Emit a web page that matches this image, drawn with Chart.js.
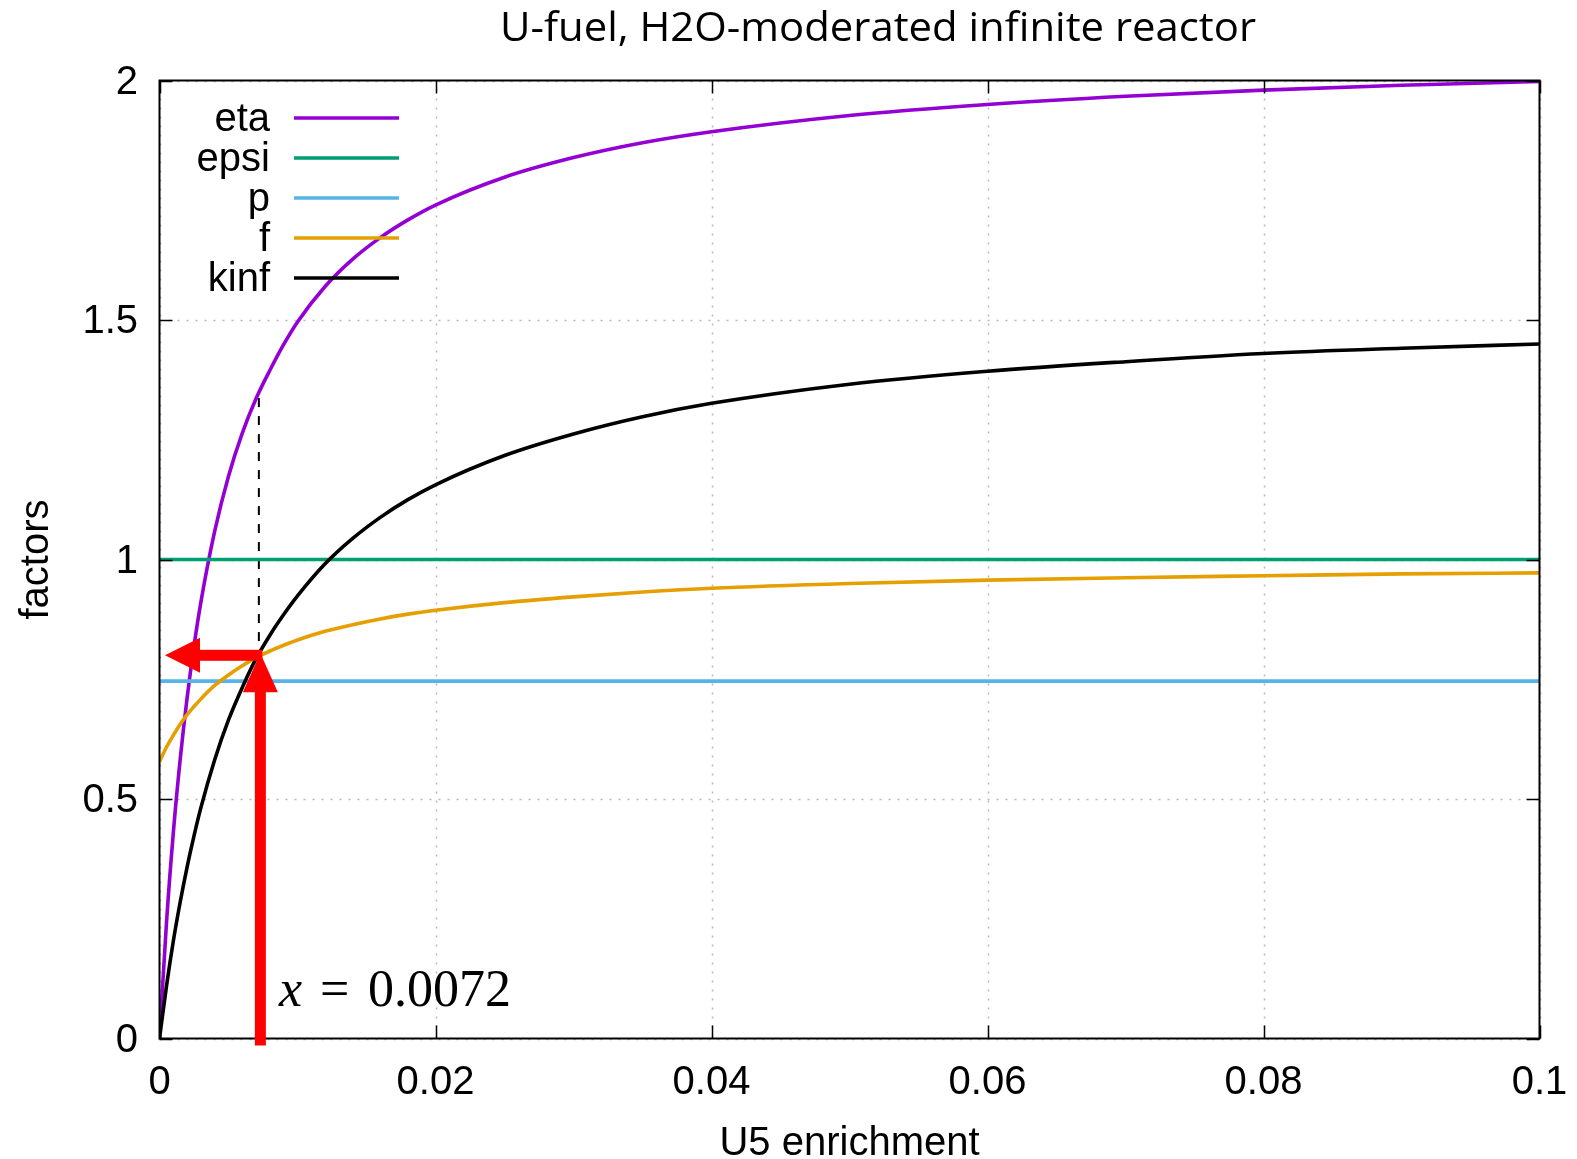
<!DOCTYPE html>
<html>
<head>
<meta charset="utf-8">
<script src="https://cdn.jsdelivr.net/npm/chart.js@4.4.1/dist/chart.umd.min.js"></script>
<style>
html,body{margin:0;padding:0;background:#fff;}
canvas{display:block;}
</style>
</head>
<body>
<canvas id="c" width="1577" height="1159"></canvas>
<script>
// ---- data ----
const enrichment = [0,0.0005,0.001,0.0015,0.002,0.0025,0.003,0.004,0.005,0.006,0.007,0.008,0.009,0.01,0.012,0.014,0.016,0.018,0.02,0.025,0.03,0.035,0.04,0.05,0.06,0.07,0.08,0.09,0.1];
const eta  = [0,0.239,0.429,0.583,0.711,0.819,0.911,1.059,1.174,1.264,1.336,1.395,1.449,1.496,1.570,1.627,1.672,1.709,1.740,1.798,1.839,1.870,1.893,1.927,1.950,1.967,1.980,1.990,1.998];
const fUtil = [0.578,0.608,0.633,0.656,0.676,0.693,0.709,0.737,0.759,0.778,0.795,0.809,0.821,0.832,0.850,0.864,0.876,0.886,0.894,0.910,0.922,0.932,0.940,0.950,0.957,0.962,0.966,0.970,0.972];
const kinf = [0,0.108,0.203,0.285,0.358,0.423,0.482,0.582,0.665,0.733,0.793,0.842,0.885,0.924,0.991,1.044,1.088,1.125,1.156,1.217,1.262,1.298,1.326,1.366,1.393,1.413,1.430,1.441,1.450];
const epsiX = [0, 0.1];
const epsi  = [1, 1];
const pX = [0, 0.1];
const pRes = [0.746, 0.746];

const seriesNames  = ['eta','epsi','p','f','kinf'];
const seriesColors = ['#9400d3','#009e73','#56b4e9','#e69f00','#000000'];
const xTickValues = [0,0.02,0.04,0.06,0.08,0.1];
const xTickLabels = ['0','0.02','0.04','0.06','0.08','0.1'];
const yTickValues = [0,0.5,1,1.5,2];
const yTickLabels = ['0','0.5','1','1.5','2'];
const natEnrichment = 0.0072;   // x = 0.0072
const kinfAtNat = 0.8;          // arrow level
const etaAtNat = 1.337;         // top of the dashed marker line
const chartTitle = 'U-fuel, H2O-moderated infinite reactor';
const xTitle = 'U5 enrichment';
const yTitle = 'factors';

function pts(xs, ys){ return xs.map((x,i)=>({x:x, y:ys[i]})); }

const TICKFONT = {family:'"Liberation Sans", Arial, sans-serif', size:40, lineHeight:1.2};

const decor = {
  id:'decor',
  beforeDatasetsDraw(chart){
    const ctx = chart.ctx, a = chart.chartArea;
    const xs = chart.scales.x, ys = chart.scales.y;
    ctx.save();
    // dotted grid
    ctx.strokeStyle = '#b8b8b8';
    ctx.lineWidth = 1.5;
    ctx.setLineDash([2,7]);
    xTickValues.forEach(v=>{
      const px = Math.round(xs.getPixelForValue(v))+0.5;
      ctx.beginPath(); ctx.moveTo(px,a.top); ctx.lineTo(px,a.bottom); ctx.stroke();
    });
    yTickValues.forEach(v=>{
      const py = Math.round(ys.getPixelForValue(v))+0.5;
      ctx.beginPath(); ctx.moveTo(a.left,py); ctx.lineTo(a.right,py); ctx.stroke();
    });
    ctx.setLineDash([]);
    // dashed marker at natural enrichment
    const xn = xs.getPixelForValue(natEnrichment);
    ctx.strokeStyle = '#000';
    ctx.lineWidth = 2;
    ctx.setLineDash([9,9]);
    ctx.beginPath(); ctx.moveTo(xn, ys.getPixelForValue(etaAtNat)); ctx.lineTo(xn, ys.getPixelForValue(0)); ctx.stroke();
    ctx.restore();
  },
  afterDatasetsDraw(chart){
    const ctx = chart.ctx, a = chart.chartArea;
    const xs = chart.scales.x, ys = chart.scales.y;
    ctx.save();
    // border
    ctx.strokeStyle = '#000';
    ctx.lineWidth = 2;
    ctx.strokeRect(a.left, a.top, a.right-a.left, a.bottom-a.top);
    // inward tick marks on all four sides
    const T = 13;
    ctx.lineWidth = 1.5;
    xTickValues.forEach(v=>{
      const px = Math.round(xs.getPixelForValue(v))+0.5;
      ctx.beginPath(); ctx.moveTo(px,a.bottom); ctx.lineTo(px,a.bottom-T); ctx.stroke();
      ctx.beginPath(); ctx.moveTo(px,a.top); ctx.lineTo(px,a.top+T); ctx.stroke();
    });
    yTickValues.forEach(v=>{
      const py = Math.round(ys.getPixelForValue(v))+0.5;
      ctx.beginPath(); ctx.moveTo(a.left,py); ctx.lineTo(a.left+T,py); ctx.stroke();
      ctx.beginPath(); ctx.moveTo(a.right,py); ctx.lineTo(a.right-T,py); ctx.stroke();
    });

    // legend (gnuplot style)
    ctx.font = '40px "Liberation Sans", Arial, sans-serif';
    ctx.textAlign = 'right';
    ctx.textBaseline = 'middle';
    seriesNames.forEach((n,i)=>{
      const y = 118 + i*40;
      ctx.fillStyle = '#000';
      ctx.fillText(n, 270, y+2);
      ctx.strokeStyle = seriesColors[i];
      ctx.lineWidth = 3.5;
      ctx.beginPath(); ctx.moveTo(294, y); ctx.lineTo(399, y); ctx.stroke();
    });

    // red arrows
    const xn = xs.getPixelForValue(natEnrichment) + 1.5;
    const yk = ys.getPixelForValue(kinfAtNat);
    ctx.fillStyle = '#ff0000';
    // vertical arrow
    ctx.fillRect(xn-5.5, yk+36, 11, ys.getPixelForValue(0)+7 - (yk+36));
    ctx.beginPath();
    ctx.moveTo(xn-17.5, yk+37); ctx.lineTo(xn+17.5, yk+37); ctx.lineTo(xn, yk-2); ctx.closePath(); ctx.fill();
    // horizontal arrow
    const x0 = xs.getPixelForValue(0) + 5.5;
    ctx.fillRect(x0+34, yk-5.5, xn+2 - (x0+34), 11);
    ctx.beginPath();
    ctx.moveTo(x0+35, yk-17.5); ctx.lineTo(x0+35, yk+17.5); ctx.lineTo(x0, yk); ctx.closePath(); ctx.fill();

    // annotation text
    ctx.fillStyle = '#000';
    ctx.textAlign = 'left';
    ctx.textBaseline = 'alphabetic';
    ctx.font = 'italic 52px "Liberation Serif", "DejaVu Serif", serif';
    ctx.fillText('x', 279, 1006);
    ctx.font = '52px "Liberation Serif", "DejaVu Serif", serif';
    ctx.fillText('=', 320, 1006);
    ctx.fillText('0.0072', 368, 1006);
    ctx.restore();
  },
  afterDraw(chart){
    const ctx = chart.ctx;
    ctx.save();
    ctx.font = '41px "Open Sans", "Noto Sans", sans-serif';
    ctx.fillStyle = '#000';
    ctx.textAlign = 'center';
    ctx.textBaseline = 'alphabetic';
    const w = ctx.measureText(chartTitle).width;
    const s = 756 / w;
    ctx.translate(878, 41);
    ctx.scale(s, 1);
    ctx.fillText(chartTitle, 0, 0);
    ctx.restore();
  }
};

new Chart(document.getElementById('c'), {
  type:'line',
  data:{
    datasets:[
      {label:seriesNames[0], data:pts(enrichment, eta),  borderColor:seriesColors[0], order:4},
      {label:seriesNames[1], data:pts(epsiX, epsi),      borderColor:seriesColors[1], order:3},
      {label:seriesNames[2], data:pts(pX, pRes),         borderColor:seriesColors[2], order:2},
      {label:seriesNames[3], data:pts(enrichment, fUtil),borderColor:seriesColors[3], order:1},
      {label:seriesNames[4], data:pts(enrichment, kinf), borderColor:seriesColors[4], order:0}
    ].map(d=>Object.assign(d,{borderWidth:3.6, pointRadius:0, fill:false, cubicInterpolationMode:'monotone'}))
  },
  options:{
    responsive:false,
    animation:false,
    devicePixelRatio:1,
    layout:{padding:{left:0, right:37.5, top:80.5, bottom:0}},
    plugins:{legend:{display:false}, tooltip:{enabled:false}, title:{display:false}},
    scales:{
      x:{
        type:'linear', min:0, max:0.1,
        afterBuildTicks(scale){ scale.ticks = xTickValues.map(v=>({value:v})); },
        ticks:{ autoSkip:false, maxRotation:0, padding:20, color:'#000', font:TICKFONT,
                callback:(v,i)=>xTickLabels[i] },
        grid:{display:false, drawTicks:false},
        border:{display:false},
        title:{display:true, text:xTitle, color:'#000', font:{family:'"Liberation Sans", Arial, sans-serif', size:40, lineHeight:0.75}, padding:{top:0,bottom:0}},
        afterFit(scale){ scale.height = 120.5; scale.paddingLeft = 0; scale.paddingRight = 0; }
      },
      y:{
        type:'linear', min:0, max:2,
        afterBuildTicks(scale){ scale.ticks = yTickValues.map(v=>({value:v})); },
        ticks:{ autoSkip:false, padding:21.5, labelOffset:2, color:'#000', font:TICKFONT,
                callback:(v,i)=>yTickLabels[i] },
        grid:{display:false, drawTicks:false},
        border:{display:false},
        title:{display:true, text:yTitle, color:'#000', font:{family:'"Liberation Sans", Arial, sans-serif', size:40, lineHeight:1.0}, padding:{top:17,bottom:0}},
        afterFit(scale){ scale.width = 159.5; scale.paddingTop = 0; scale.paddingBottom = 0; }
      }
    }
  },
  plugins:[decor]
});
</script>
</body>
</html>
